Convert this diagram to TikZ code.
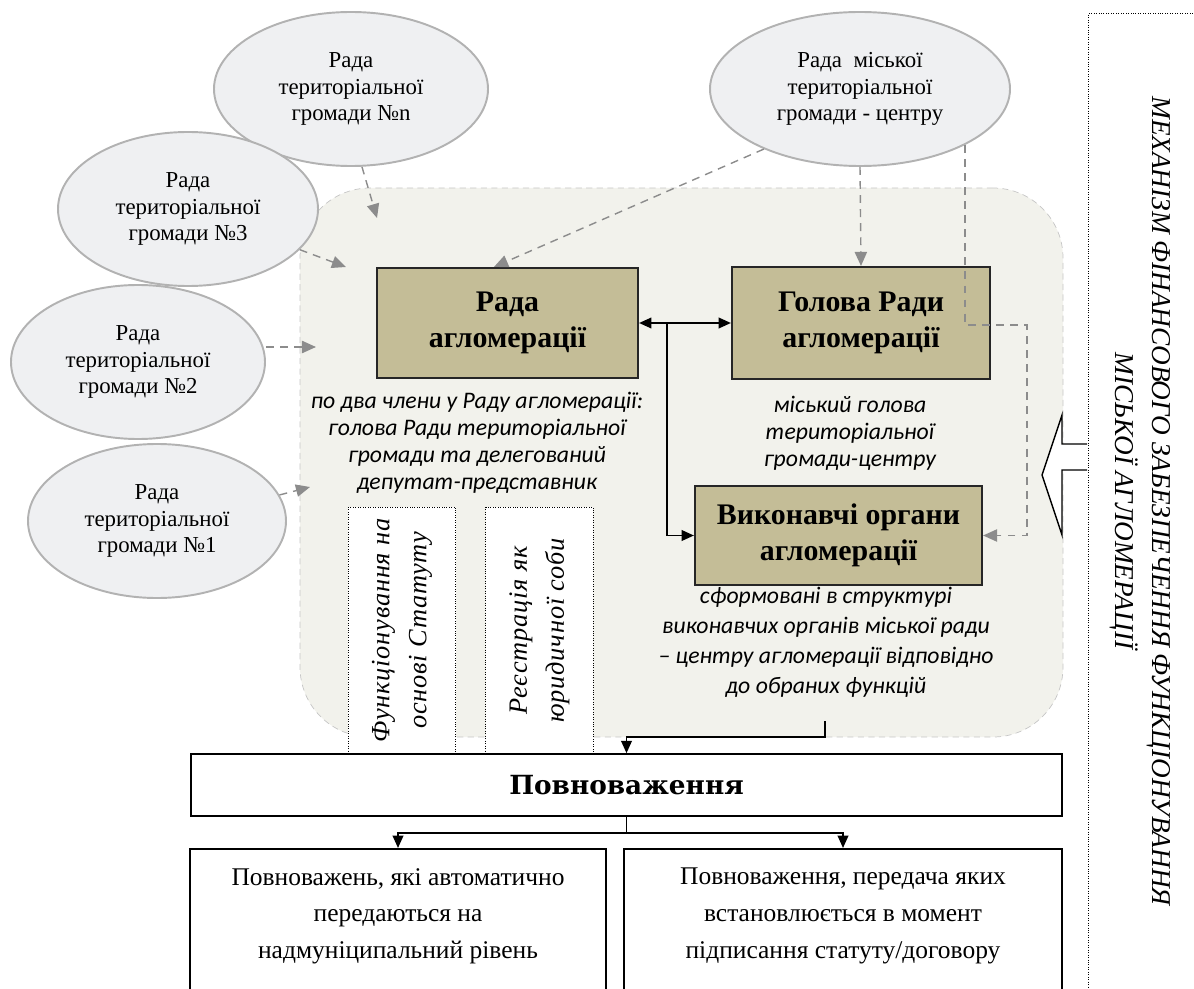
\documentclass[tikz,border=0pt]{standalone}
\usepackage{fontspec}
\setmainfont{Liberation Serif}
\newfontfamily\calibri{Carlito}
\newfontfamily\slabfont{DejaVu Serif}
\usepackage{xcolor}
\usetikzlibrary{shapes.geometric,arrows.meta,positioning}
\definecolor{regionfill}{HTML}{F2F2EC}
\definecolor{boxfill}{HTML}{C4BD97}
\definecolor{ovalfill}{HTML}{EFF0F2}
\definecolor{dashgray}{HTML}{8C8C8C}

\begin{document}
\begin{tikzpicture}[
    council/.style={ellipse, draw=gray!60, line width=1.1pt, fill=ovalfill, minimum height=3.08cm, inner sep=0pt, align=center, font=\fontsize{13}{15.2}\selectfont},
    organ/.style={draw=black!85, line width=1.2pt, fill=boxfill, align=center, font=\fontsize{17}{20.5}\selectfont\bfseries},
    note/.style={align=center, font=\calibri\itshape\fontsize{13.5}{15.4}\selectfont},
    sidebox/.style={draw, densely dotted, fill=white, rotate=90, minimum width=4.94cm, minimum height=2.15cm, align=center, font=\itshape\addfontfeature{LetterSpace=3}\fontsize{15}{21}\selectfont},
    plainbox/.style={draw, line width=0.9pt, fill=white},
    bottomtext/.style={align=center, font=\fontsize{14.5}{20.8}\selectfont},
    dasharr/.style={dashgray, line width=0.8pt, dash pattern=on 4.5pt off 3.5pt, -{Triangle[length=8pt,width=7pt]}},
    solidarr/.style={black, line width=1.1pt, -{Triangle[length=7pt,width=6pt]}}
]
    \useasboundingbox (0,0) rectangle (23.88,19.76);
    \clip (0,0) rectangle (23.88,19.76);

    % Agglomeration region
    \node[draw=gray!45, dash pattern=on 3.5pt off 2.5pt, fill=regionfill, rounded corners=1.4cm, minimum width=15.26cm, minimum height=10.98cm] (region) at (13.63,10.51) {};

    % Councils of the communities
    \node[council, minimum width=5.48cm] (En) at (7.02,17.98) {Рада\\ територіальної\\ громади №n};
    \node[council, minimum width=5.2cm] (E3) at (3.76,15.58) {Рада\\ територіальної\\ громади №3};
    \node[council, minimum width=5.08cm] (E2) at (2.76,12.52) {Рада\\ територіальної\\ громади №2};
    \node[council, minimum width=5.16cm] (E1) at (3.14,9.34) {Рада\\ територіальної\\ громади №1};
    \node[council, minimum width=6.0cm] (Ec) at (17.2,17.98) {Рада\ \ міської\\ територіальної\\ громади - центру};

    % Bodies of the agglomeration
    \node[organ, minimum width=5.22cm, minimum height=2.2cm] (rada) at (10.15,13.3) {Рада\\ агломерації};
    \node[organ, minimum width=5.16cm, minimum height=2.24cm] (golova) at (17.22,13.3) {Голова Ради\\ агломерації};
    \node[organ, minimum width=5.74cm, minimum height=1.98cm] (vyk) at (16.77,9.05) {Виконавчі органи\\ агломерації};

    % Notes
    \node[note] (radanote) at (9.54,10.91) {по два члени у Раду агломерації:\\ голова Ради територіальної\\ громади та делегований\\ депутат-представник};
    \node[note] (golovanote) at (17.0,11.09) {міський голова\\ територіальної\\ громади-центру};
    \node[note, font=\calibri\itshape\fontsize{13.5}{17}\selectfont] (vyknote) at (16.52,6.91) {сформовані в структурі\\ виконавчих органів міської ради\\ – центру агломерації відповідно\\ до обраних функцій};

    % Statute and registration
    \node[sidebox] (statute) at (8.04,7.15) {Функціонування на\\ основі Статуту};
    \node[sidebox] (registry) at (10.79,7.15) {Реєстрація як\\ юридичної соби};

    % Powers
    \node[plainbox, minimum width=17.42cm, minimum height=1.24cm, font=\slabfont\bfseries\fontsize{15}{17}\selectfont] (povn) at (12.53,4.06) {Повноваження};
    \node[plainbox, anchor=north, minimum width=8.32cm, minimum height=3.4cm] (pleft) at (7.96,2.8) {};
    \node[plainbox, anchor=north, minimum width=8.76cm, minimum height=3.4cm] (pright) at (16.86,2.8) {};
    \node[bottomtext, below=0.28cm of pleft.north] (lefttext) {Повноважень, які автоматично\\ передаються на\\ надмуніципальний рівень};
    \node[bottomtext, below=0.28cm of pright.north] (righttext) {Повноваження, передача яких\\ встановлюється в момент\\ підписання статуту/договору};

    % Mechanism
    \node[draw, densely dotted, anchor=north west, minimum width=3cm, minimum height=20cm] (mechbox) at (21.76,19.5) {};
    \node[rotate=-90, align=center, font=\itshape\fontsize{15.5}{21}\selectfont] (mechtext) at (22.8,9.74) {МЕХАНІЗМ ФІНАНСОВОГО ЗАБЕЗПЕЧЕННЯ ФУНКЦІОНУВАННЯ\\ МІСЬКОЇ АГЛОМЕРАЦІЇ};
    \draw[line width=0.8pt, fill=white] (21.74,10.88) -- (21.24,10.88) -- (21.24,11.46) -- (20.84,10.26) -- (21.24,9.06) -- (21.24,10.36) -- (21.74,10.36);

    % Delegation arrows
    \coordinate (inN) at (7.54,15.4);
    \coordinate (in3) at (6.92,14.42);
    \coordinate (in2) at (6.32,12.82);
    \coordinate (in1) at (6.2,10.02);
    \coordinate (golovaside) at (20.54,13.26);
    \draw[dasharr] (En.-82) -- (inN);
    \draw[dasharr] (E3.-20) -- (in3);
    \draw[dasharr] (E2.east |- in2) -- (in2);
    \draw[dasharr] (E1.12) -- (in1);
    \draw[dasharr] (Ec.212) -- ([xshift=-0.27cm]rada.north);
    \draw[dasharr] (Ec.south) -- (golova.north);
    \draw[dasharr] (Ec.-28) |- (golovaside) |- (vyk.east);

    % Links between bodies
    \coordinate (branch) at (13.34,13.3);
    \draw[solidarr, {Triangle[length=7pt,width=6pt]}-{Triangle[length=7pt,width=6pt]}] (rada.east) -- (golova.west);
    \draw[solidarr] (branch) |- (vyk.west);

    % Down to the powers
    \coordinate (vykout) at (16.5,5.34);
    \draw[solidarr] (vykout) -- ++(0,-0.32) -| (povn.north);
    \draw[solidarr] (povn.south) -- ++(0,-0.32) -| (pleft.north);
    \draw[solidarr] (povn.south) -- ++(0,-0.32) -| (pright.north);
\end{tikzpicture}
\end{document}
